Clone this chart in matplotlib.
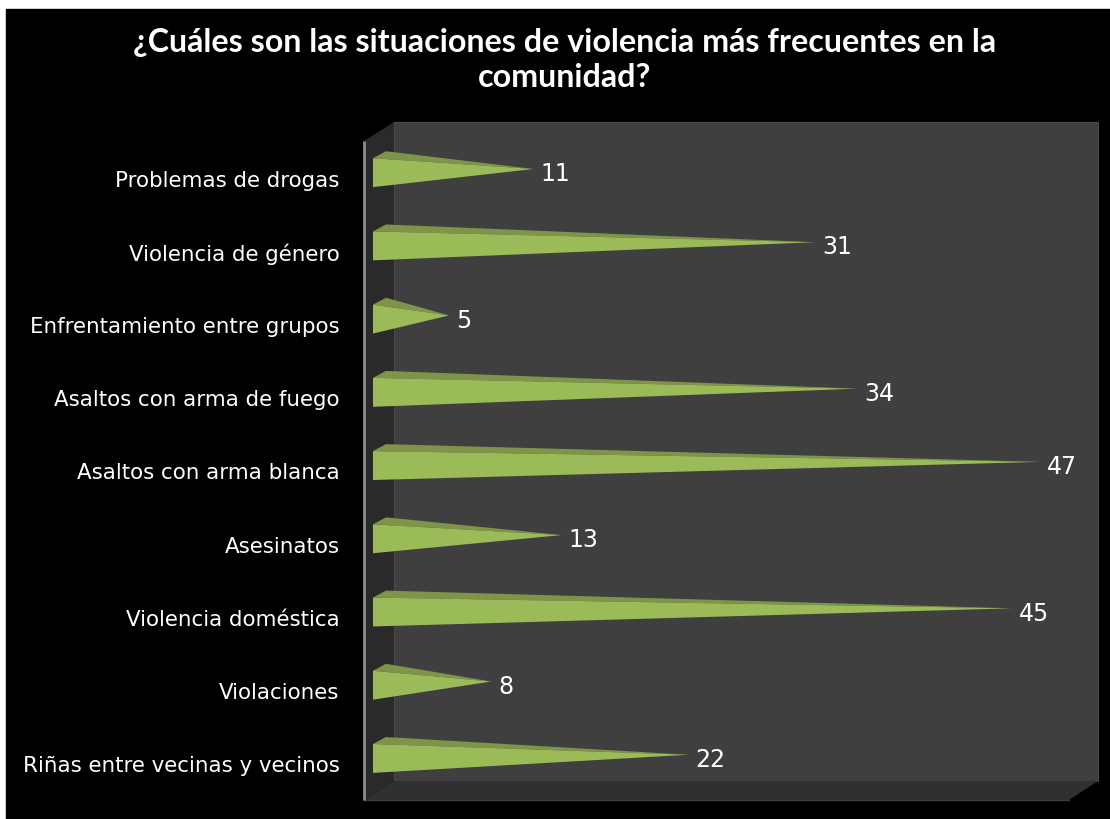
import matplotlib
matplotlib.use("Agg")
import matplotlib.pyplot as plt
from matplotlib.patches import Polygon, Rectangle

categories = ["Problemas de drogas", "Violencia de género", "Enfrentamiento entre grupos",
              "Asaltos con arma de fuego", "Asaltos con arma blanca", "Asesinatos",
              "Violencia doméstica", "Violaciones", "Riñas entre vecinas y vecinos"]
values = [11, 31, 5, 34, 47, 13, 45, 8, 22]
title = "¿Cuáles son las situaciones de violencia más frecuentes en la\ncomunidad?"

W, H = 1110, 820
fig = plt.figure(figsize=(W / 100, H / 100), dpi=100, facecolor="white")

# background layer in pixels, for the fake 3d box
bg = fig.add_axes([0, 0, 1, 1])
bg.set_xlim(0, W)
bg.set_ylim(H, 0)
bg.axis("off")
bg.add_patch(Rectangle((6, 10), W - 6, H - 10, color="black"))
bg.add_patch(Polygon([(394, 123), (1098, 123), (1098, 782), (394, 782)], fc="#3f3f3f", ec="#4a4a4a", lw=0.8))
bg.add_patch(Polygon([(364, 142), (394, 123), (394, 782), (364, 801)], color="#2a2a2a", lw=0))
bg.add_patch(Polygon([(364, 801), (394, 782), (1098, 782), (1069, 801)], color="#303030", lw=0))
bg.plot([364, 1069], [801, 801], color="#3c3c3c", lw=1)
bg.plot([364, 364], [142, 801], color="#8c8c8c", lw=2, solid_capstyle="butt")
bg.text(565, 60, title, color="white", fontsize=23.2, fontweight="bold", family="Lato",
        ha="center", va="center", linespacing=1.28)

# data axes: value 0 sits a bit right of the bar base, 14.07 px per unit
x0, x1, y0, y1 = 373, 1098, 142, 801
base = -0.4
ax = fig.add_axes([x0 / W, 1 - y1 / H, (x1 - x0) / W, (y1 - y0) / H])
ax.patch.set_alpha(0)
ax.set_xlim(base, base + (x1 - x0) / 14.07)
ax.set_ylim(len(categories) - 0.5, -0.5)
for s in ax.spines.values():
    s.set_visible(False)
ax.set_xticks([])
ax.set_yticks(range(len(categories)))
ax.set_yticklabels(categories, color="white", fontsize=15.4)
ax.tick_params(axis="y", length=0, pad=24)

for i, v in enumerate(values):
    top = i - 0.265
    bottom = i + 0.13
    tip = i - 0.118
    back = i - 0.36
    ax.add_patch(Polygon([(base, top), (base + 0.92, back), (v, tip)], color="#7f9449", lw=0))
    ax.add_patch(Polygon([(base, top), (base, bottom), (v, tip)], color="#9bbb59", lw=0))
    ax.text(v + 0.5, i - 0.06, str(v), color="white", fontsize=17, ha="left", va="center")

fig.savefig("out.png", dpi=100, facecolor="white")
